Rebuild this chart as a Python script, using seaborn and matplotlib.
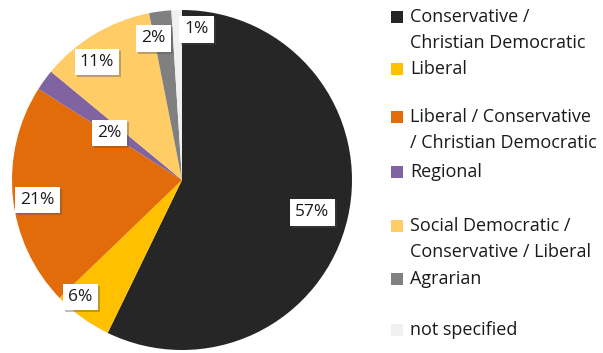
import matplotlib
matplotlib.use("Agg")
import matplotlib.pyplot as plt
import matplotlib.patheffects as pe
import numpy as np
import seaborn as sns

sns.set_theme(style="white")
plt.rcParams['font.family'] = ['Open Sans', 'DejaVu Sans']

categories = ["Conservative /\nChristian Democratic", "Liberal",
              "Liberal / Conservative\n/ Christian Democratic", "Regional",
              "Social Democratic /\nConservative / Liberal", "Agrarian",
              "not specified"]
values = [57.2, 5.6, 21.2, 2.0, 10.9, 2.1, 1.0]
pct_labels = ["57%", "6%", "21%", "2%", "11%", "2%", "1%"]
colors = ["#262626", "#FFC000", "#E36C0A", "#8064A2", "#FFCC66", "#808080", "#F0F0F0"]

fig = plt.figure(figsize=(6.03, 3.53), dpi=100)
ax = fig.add_axes([12/603, 3/353, 340/603, 340/353])
wedges, _ = ax.pie(values, colors=colors, startangle=90, counterclock=False,
                   radius=1.0, wedgeprops=dict(linewidth=0))
ax.set_xlim(-1, 1); ax.set_ylim(-1, 1)
ax.set_aspect("equal")

radial = [0.79, 0.91, 0.86, 0.51, 0.855, 0.85, 0.89]
angle_shift = [-1, -5, 2, 3, 5, 4, -7.4]
for w, lab, r, da in zip(wedges, pct_labels, radial, angle_shift):
    th = np.deg2rad((w.theta1 + w.theta2) / 2 + da)
    ax.text(r * np.cos(th), r * np.sin(th), lab, ha="center", va="center",
            fontsize=12.5, color="#1a1a1a",
            bbox=dict(boxstyle="square,pad=0.3", fc="white", ec="none",
                      path_effects=[pe.SimplePatchShadow(offset=(1.5, -1.5), alpha=0.35),
                                    pe.Normal()]))

# legend
leg_y = [17, 69, 117, 172, 226, 279, 330]
for lab, col, y in zip(categories, colors, leg_y):
    yy = 1 - y / 353
    fig.patches.append(plt.Rectangle((391/603, yy - 6/353), 12/603, 12/353,
                                     transform=fig.transFigure, fc=col, ec="none"))
    fig.text(410/603, yy + 9/353, lab, ha="left", va="top", fontsize=13,
             color="#1a1a1a", linespacing=1.55)

fig.savefig("out.png", dpi=100)
